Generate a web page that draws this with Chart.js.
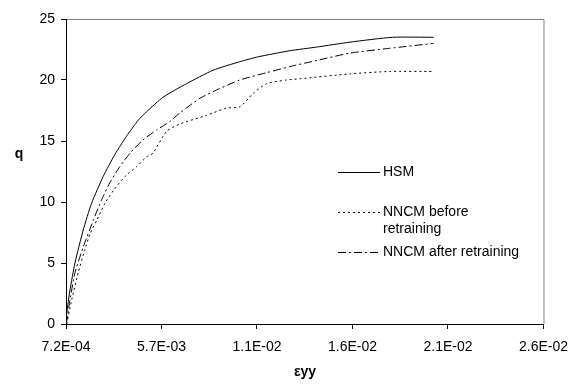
<!DOCTYPE html>
<html>
<head>
<meta charset="utf-8">
<script src="https://cdn.jsdelivr.net/npm/chart.js@4/dist/chart.umd.min.js"></script>
<style>
    html, body { margin: 0; padding: 0; background: #fff; }
    #wrap { width: 578px; height: 385px; }
</style>
</head>
<body>
<div id="wrap"><canvas id="chart" width="578" height="385"></canvas></div>
<script>
    // strain (eyy) / deviator stress q
    const hsmX = [0.00072, 0.00076, 0.00093, 0.00119, 0.00162, 0.00206, 0.00267, 0.00328, 0.00389, 0.00450, 0.00494,
        0.00581, 0.00703, 0.00842, 0.00982, 0.01078, 0.01244, 0.01385, 0.01557, 0.01782, 0.01997];
    const hsmQ = [0, 0.9, 2.8, 5.0, 7.7, 9.9, 12.1, 13.9, 15.4, 16.7, 17.4,
        18.6, 19.7, 20.8, 21.5, 21.9, 22.4, 22.7, 23.1, 23.5, 23.5];

    const beforeX = [0.00076, 0.00102, 0.00136, 0.00171, 0.00198, 0.00233, 0.00276, 0.00328, 0.00381, 0.00442, 0.00494,
        0.00527, 0.00599, 0.00668, 0.00808, 0.00912, 0.00982, 0.01052, 0.01122, 0.01226, 0.01296, 0.01557, 0.01767, 0.01997];
    const beforeQ = [0, 2.0, 4.2, 6.1, 7.4, 8.5, 9.9, 11.1, 12.1, 12.9, 13.7,
        14.0, 15.8, 16.4, 17.1, 17.7, 17.8, 18.9, 19.7, 20.0, 20.1, 20.5, 20.7, 20.7];

    const afterX = [0.00074, 0.00093, 0.00119, 0.00162, 0.00215, 0.00259, 0.00302, 0.00354, 0.00407, 0.00476, 0.00546,
        0.00616, 0.00668, 0.00773, 0.00877, 0.00982, 0.01122, 0.01244, 0.01385, 0.01557, 0.01767, 0.01997];
    const afterQ = [0, 2.0, 4.2, 6.3, 8.5, 10.2, 11.6, 12.9, 14.0, 15.1, 15.9,
        16.6, 17.3, 18.5, 19.3, 20.0, 20.6, 21.1, 21.6, 22.2, 22.6, 23.0];

    const xTickValues = [0.00072, 0.00572, 0.01072, 0.01572, 0.02072, 0.02572];
    const xTickLabels = ['7.2E-04', '5.7E-03', '1.1E-02', '1.6E-02', '2.1E-02', '2.6E-02'];

    const FONT = '"Liberation Sans", Arial, sans-serif';

    function pts(xs, ys) {
        return xs.map((x, i) => ({x: x, y: ys[i]}));
    }

    // gray frame on top/right, axis titles and the legend block
    const decor = {
        id: 'decor',
        beforeDraw(chart) {
            const {ctx, chartArea: a} = chart;
            ctx.save();
            ctx.strokeStyle = '#808080';
            ctx.lineWidth = 1;
            ctx.beginPath();
            ctx.moveTo(a.left, a.top + 0.5);
            ctx.lineTo(a.right + 0.5, a.top + 0.5);
            ctx.lineTo(a.right + 0.5, a.bottom);
            ctx.stroke();
            ctx.restore();
        },
        afterDraw(chart) {
            const ctx = chart.ctx;
            ctx.save();
            ctx.fillStyle = '#000';
            ctx.font = 'bold 14px ' + FONT;
            ctx.textAlign = 'center';
            ctx.textBaseline = 'middle';
            ctx.fillText('q', 19, 154);
            ctx.fillText('εyy', 305, 372);

            const items = [
                {ds: 0, y: 172, lines: ['HSM']},
                {ds: 1, y: 212, lines: ['NNCM before', 'retraining']},
                {ds: 2, y: 252, lines: ['NNCM after retraining']}
            ];
            ctx.font = '14px ' + FONT;
            ctx.textAlign = 'left';
            items.forEach(it => {
                const d = chart.data.datasets[it.ds];
                ctx.strokeStyle = '#000';
                ctx.lineWidth = 1;
                ctx.setLineDash(d.borderDash || []);
                ctx.beginPath();
                ctx.moveTo(338, it.y + 0.5);
                ctx.lineTo(380, it.y + 0.5);
                ctx.stroke();
                ctx.setLineDash([]);
                it.lines.forEach((t, k) => ctx.fillText(t, 383, it.y + k * 17));
            });
            ctx.restore();
        }
    };

    new Chart(document.getElementById('chart'), {
        type: 'line',
        data: {
            datasets: [
                {label: 'HSM', data: pts(hsmX, hsmQ), borderColor: '#000', borderWidth: 1},
                {label: 'NNCM before retraining', data: pts(beforeX, beforeQ), borderColor: '#000', borderWidth: 1, borderDash: [2, 3]},
                {label: 'NNCM after retraining', data: pts(afterX, afterQ), borderColor: '#000', borderWidth: 1, borderDash: [8, 3, 2, 3]}
            ]
        },
        options: {
            responsive: false,
            animation: false,
            events: [],
            elements: {point: {radius: 0}, line: {tension: 0.2}},
            layout: {padding: {top: 19, right: 33, left: 0, bottom: 0}},
            plugins: {legend: {display: false}, tooltip: {enabled: false}},
            scales: {
                x: {
                    type: 'linear',
                    min: xTickValues[0],
                    max: xTickValues[xTickValues.length - 1],
                    afterBuildTicks: (s) => { s.ticks = xTickValues.map(v => ({value: v})); },
                    afterFit: (s) => { s.height = 61; },
                    grid: {drawOnChartArea: false, drawTicks: true, tickLength: 5, color: '#000'},
                    border: {color: '#000', width: 1},
                    ticks: {
                        color: '#000', font: {family: FONT, size: 14}, padding: 10, maxRotation: 0,
                        callback: (v, i) => xTickLabels[i]
                    }
                },
                y: {
                    min: 0,
                    max: 25,
                    afterFit: (s) => { s.width = 66; },
                    grid: {drawOnChartArea: false, drawTicks: true, tickLength: 5, color: '#000'},
                    border: {color: '#000', width: 1},
                    ticks: {stepSize: 5, color: '#000', font: {family: FONT, size: 14}, padding: 6}
                }
            }
        },
        plugins: [decor]
    });
</script>
</body>
</html>
